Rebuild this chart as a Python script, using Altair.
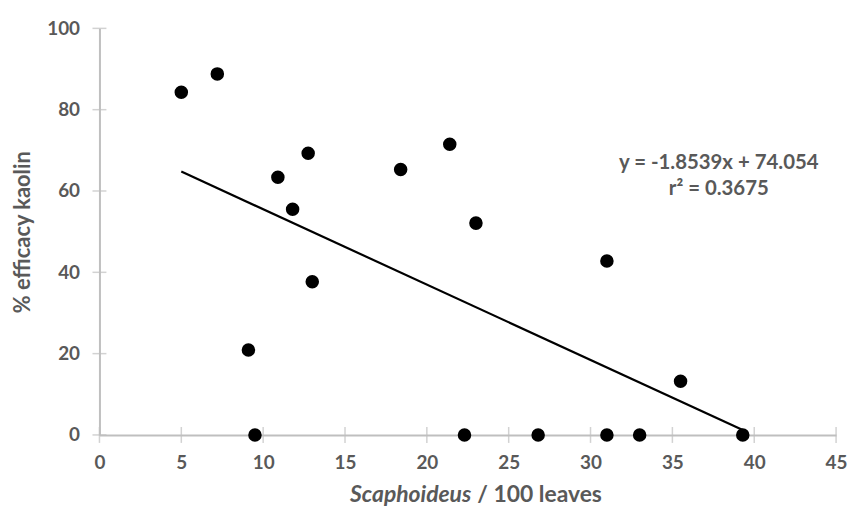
import altair as alt
import pandas as pd

# ---- data ----
x_vals = [5.0, 7.2, 9.1, 9.5, 10.9, 11.8, 12.75, 13.0, 18.4, 21.4, 23.0, 22.3,
          26.8, 31.0, 31.0, 33.0, 35.5, 39.3]
y_vals = [84.3, 88.8, 20.9, 0.0, 63.4, 55.5, 69.3, 37.7, 65.3, 71.5, 52.1, 0.0,
          0.0, 42.8, 0.0, 0.0, 13.2, 0.0]
slope = -1.8539
intercept = 74.054
r_squared = 0.3675
x_ticks = [0, 5, 10, 15, 20, 25, 30, 35, 40, 45]
y_ticks = [0, 20, 40, 60, 80, 100]

eq_line1 = f"y = {slope}x + {intercept}"
eq_line2 = f"r² = {r_squared}"
x_title_italic = "Scaphoideus"
x_title_rest = "/ 100 leaves"
y_title = "% efficacy kaolin"

GRAY = "#bfbfbf"
TEXT = "#595959"
FONT = "Lato"

pts = pd.DataFrame({"x": x_vals, "y": y_vals})
xmin, xmax = min(x_vals), max(x_vals)
fit = pd.DataFrame({"x": [xmin, xmax],
                    "y": [slope * xmin + intercept, slope * xmax + intercept]})
xt = pd.DataFrame({"x": x_ticks, "y": [0] * len(x_ticks)})
yt = pd.DataFrame({"y": y_ticks, "x": [0] * len(y_ticks)})

xscale = alt.Scale(domain=[0, 45], nice=False, zero=False)
yscale = alt.Scale(domain=[0, 100], nice=False)

xaxis = alt.Axis(values=x_ticks, title=None, labelPadding=19, labelFlush=False,
                 labelOverlap=False)
yaxis = alt.Axis(values=y_ticks, title=y_title, labelPadding=20, titlePadding=12,
                 labelOverlap=False)

X = alt.X("x:Q", scale=xscale, axis=xaxis)
Y = alt.Y("y:Q", scale=yscale, axis=yaxis)

base_pts = alt.Chart(pts).mark_circle(size=185, color="black", opacity=1).encode(x=X, y=Y)

xticks_layer = alt.Chart(xt).mark_tick(orient="vertical", size=16, thickness=1.5,
                                       color=GRAY).encode(x=X, y=Y)
yticks_layer = alt.Chart(yt).mark_tick(orient="horizontal", size=14, thickness=1.5,
                                       color=GRAY).encode(x=X, y=Y)

fit_layer = alt.Chart(fit).mark_line(color="black", strokeWidth=2.2).encode(x=X, y=Y)


def text_layer(s, x, y, align="center", style="normal", size=20):
    return alt.Chart(pd.DataFrame({"s": [s]})).mark_text(
        font=FONT, fontSize=size, fontWeight="bold", fontStyle=style, color=TEXT,
        align=align, baseline="alphabetic").encode(
        text="s:N", x=alt.value(x), y=alt.value(y))


eq1 = text_layer(eq_line1, 623, 141, size=20.5)
eq2 = text_layer(eq_line2, 623, 168, size=20.5)
xt_italic = text_layer(x_title_italic, 374, 476, align="right", style="italic", size=23)
xt_rest = text_layer(x_title_rest, 380, 476, align="left", size=23)

chart = alt.layer(
    xticks_layer, yticks_layer, fit_layer, base_pts, eq1, eq2, xt_italic, xt_rest
).properties(
    width=741, height=409,
    autosize=alt.AutoSizeParams(type="none"),
    padding={"left": 92, "top": 19, "right": 12, "bottom": 71},
).configure_view(stroke=None).configure_axis(
    grid=False, ticks=False, domainColor=GRAY, domainWidth=2,
    labelColor=TEXT, labelFont=FONT, labelFontSize=19, labelFontWeight="bold",
    titleColor=TEXT, titleFont=FONT, titleFontSize=22, titleFontWeight="bold",
)

chart.save("out.html", embed_options={"renderer": "svg", "actions": False})
